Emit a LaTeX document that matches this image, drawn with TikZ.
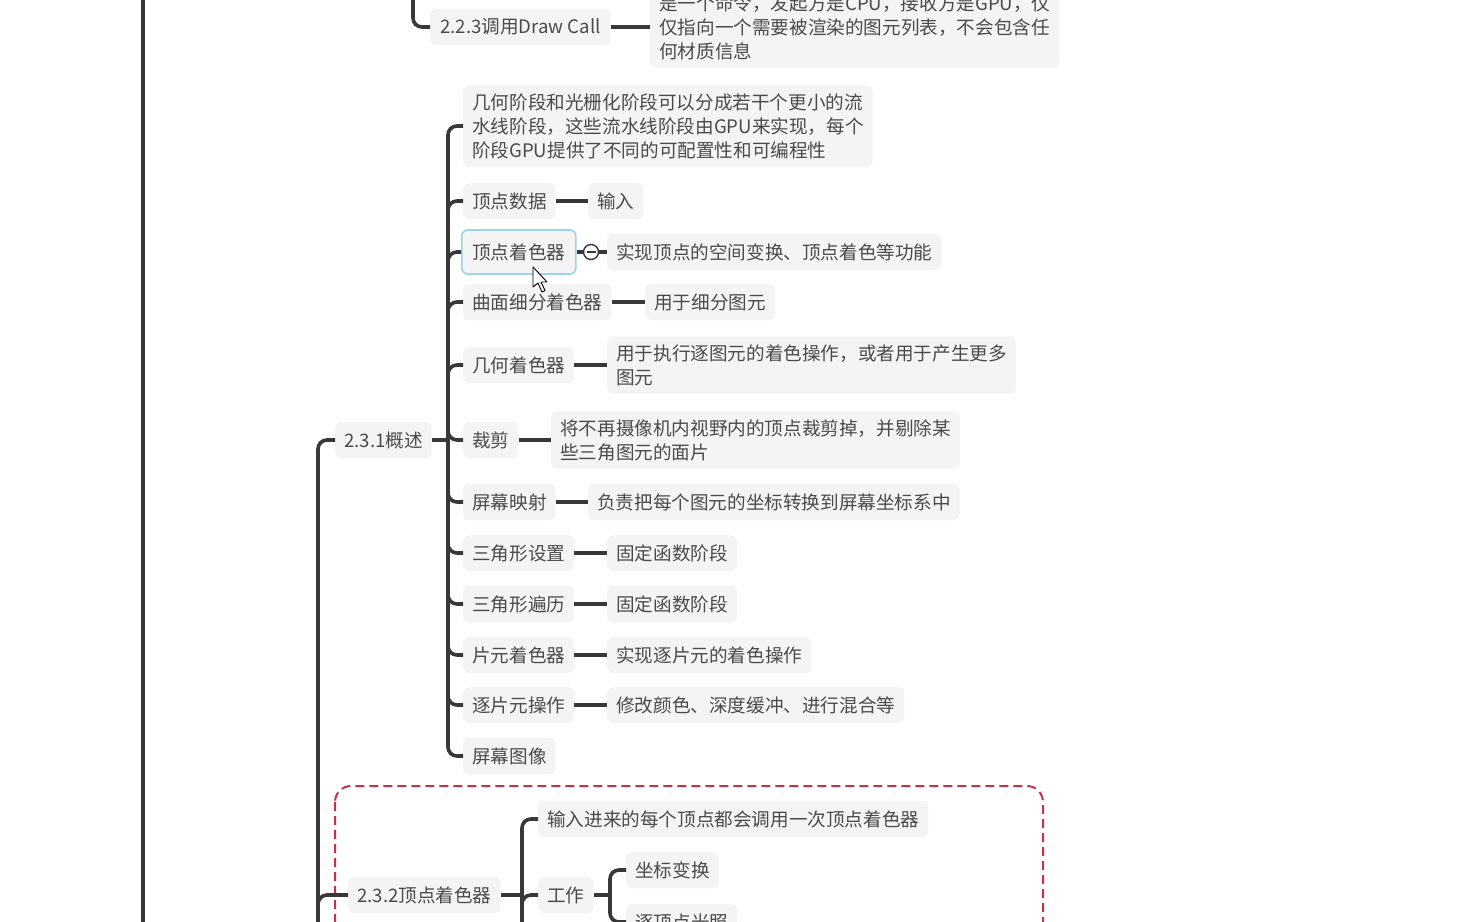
\documentclass[tikz,border=0pt]{standalone}
\usepackage{fontspec}
\usetikzlibrary{calc}
\setmainfont{Noto Sans CJK SC}
\definecolor{ln}{HTML}{383838}
\definecolor{txt}{HTML}{4A4A4A}
\definecolor{boxfill}{HTML}{F4F4F4}
\definecolor{selb}{HTML}{9CD2EE}
\definecolor{dashred}{HTML}{C23446}
\tikzset{
  topic/.style={fill=boxfill, rounded corners=6pt, inner xsep=9pt, inner ysep=8pt, minimum height=36pt, text=txt, anchor=west, font=\fontsize{18.6}{24}\selectfont, align=left},
  conn/.style={draw=ln, line width=3.6pt},
  br/.style={conn, rounded corners=9pt},
}
\begin{document}
\begin{tikzpicture}[x=1pt,y=-1pt]
\useasboundingbox (0,0) rectangle (1459,921);
\clip (0,0) rectangle (1459,921);
\fill[white] (0,0) rectangle (1459,921);

% main spine
\coordinate (m1) at (143,-20);
\coordinate (m2) at (143,960);
\draw[conn] (m1) -- (m2);

% 2.2.3
\node[topic, inner xsep=10pt] (o223) at (430,27) {2.2.3调用Draw Call};
\node[topic] (d223) at (650,27) {是一个命令，发起方是CPU，接收方是GPU，仅\\仅指向一个需要被渲染的图元列表，不会包含任\\何材质信息};
\coordinate (t223) at (413,-20);
\draw[br] (t223) |- (o223.west);
\draw[conn] (o223.east) -- (o223.east -| d223.west);

% dashed frame
\draw[dashred, line width=2pt, dash pattern=on 9pt off 5pt, rounded corners=16pt] (335,786) rectangle (1043,1000);

% 2.3.x spine
\coordinate (sp2) at (318,960);
\node[topic] (o231) at (335,440) {2.3.1概述};
\node[topic] (o232) at (348,895) {2.3.2顶点着色器};
\draw[br] (sp2) |- (o231.west);
\draw[br] (sp2) |- (o232.west);

% children of 2.3.1
\coordinate (s231) at (448,440);
\draw[conn] (o231.east) -- (s231);
\node[topic] (c0) at (463,126) {几何阶段和光栅化阶段可以分成若干个更小的流\\水线阶段，这些流水线阶段由GPU来实现，每个\\阶段GPU提供了不同的可配置性和可编程性};
\node[topic] (c1) at (463,201) {顶点数据};
\node[topic, draw=selb, line width=1.6pt, minimum height=44pt, inner xsep=10.5pt] (c2) at (461,252) {顶点着色器};
\node[topic] (c3) at (463,302) {曲面细分着色器};
\node[topic] (c4) at (463,365) {几何着色器};
\node[topic] (c5) at (463,440) {裁剪};
\node[topic] (c6) at (463,502) {屏幕映射};
\node[topic] (c7) at (463,553) {三角形设置};
\node[topic] (c8) at (463,604) {三角形遍历};
\node[topic] (c9) at (463,655) {片元着色器};
\node[topic] (c10) at (463,705) {逐片元操作};
\node[topic] (c11) at (463,756) {屏幕图像};
\foreach \c in {c0,c1,c2,c3,c4,c5,c6,c7,c8,c9,c10,c11}{
  \draw[br] (s231) |- (\c.west);
}

% details
\node[topic] (e1) at (588,201) {输入};
\node[topic] (e2) at (607,252) {实现顶点的空间变换、顶点着色等功能};
\node[topic] (e3) at (645,302) {用于细分图元};
\node[topic] (e4) at (607,365) {用于执行逐图元的着色操作，或者用于产生更多\\图元};
\node[topic] (e5) at (551,440) {将不再摄像机内视野内的顶点裁剪掉，并剔除某\\些三角图元的面片};
\node[topic] (e6) at (588,502) {负责把每个图元的坐标转换到屏幕坐标系中};
\node[topic] (e7) at (607,553) {固定函数阶段};
\node[topic] (e8) at (607,604) {固定函数阶段};
\node[topic] (e9) at (607,655) {实现逐片元的着色操作};
\node[topic] (e10) at (607,705) {修改颜色、深度缓冲、进行混合等};
\draw[conn] (c1.east) -- (e1.west);
\draw[conn] (c3.east) -- (e3.west);
\draw[conn] (c4.east) -- (c4.east -| e4.west);
\draw[conn] (c5.east) -- (c5.east -| e5.west);
\draw[conn] (c6.east) -- (e6.west);
\draw[conn] (c7.east) -- (e7.west);
\draw[conn] (c8.east) -- (e8.west);
\draw[conn] (c9.east) -- (e9.west);
\draw[conn] (c10.east) -- (e10.west);

% collapse toggle on 顶点着色器
\node[circle, draw=ln, line width=1.4pt, fill=white, minimum size=15pt, inner sep=0pt] (tg) at (591,252) {};
\draw[conn] (c2.east) -- (tg.west);
\draw[conn] (tg.east) -- (e2.west);
\draw[ln, line width=1.3pt] ($(tg.center)+(-4.5,0)$) -- ($(tg.center)+(4.5,0)$);

% cursor
\draw[black, fill=white, line width=0.9pt, line join=round]
  (533,267) -- (533,287) -- (538,283) -- (542,292) -- (545,290.5) -- (541,282) -- (547,282) -- cycle;

% children of 2.3.2
\coordinate (s232) at (522,895);
\coordinate (s232e) at (522,960);
\draw[conn] (o232.east) -- (s232);
\draw[conn] (s232) -- (s232e);
\node[topic] (f1) at (538,819) {输入进来的每个顶点都会调用一次顶点着色器};
\node[topic] (f2) at (538,895) {工作};
\draw[br] (s232) |- (f1.west);
\draw[br] (s232e) |- (f2.west);
\coordinate (s2w) at (610,895);
\draw[conn] (f2.east) -- (s2w);
\node[topic] (g1) at (626,870) {坐标变换};
\node[topic] (g2) at (626,922) {逐顶点光照};
\draw[br] (s2w) |- (g1.west);
\draw[br] (s2w) |- (g2.west);
\end{tikzpicture}
\end{document}
